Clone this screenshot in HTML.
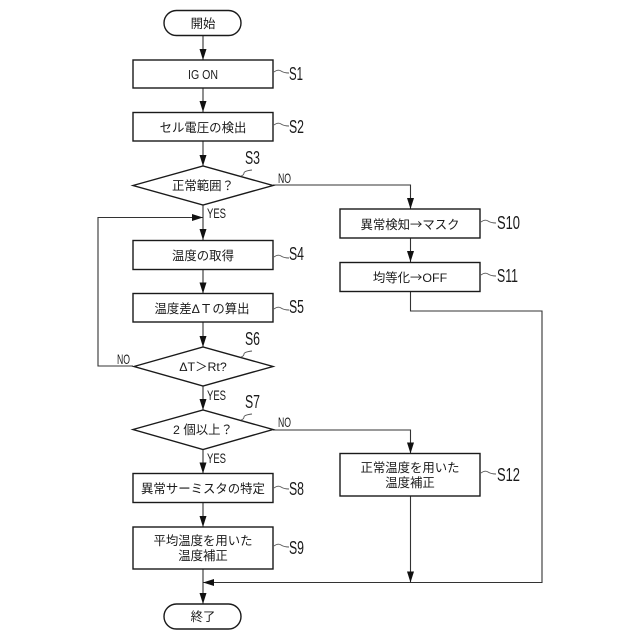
<!DOCTYPE html>
<html><head><meta charset="utf-8"><style>
html,body{margin:0;padding:0;background:#fff}
svg{display:block}
text{font-family:"Liberation Sans","Noto Sans CJK JP",sans-serif;fill:#1a1a1a}
.j{font-size:12.4px;text-anchor:middle}
.n{font-size:14px}
.s{font-size:18px}
.b{fill:#fff;stroke:#1a1a1a;stroke-width:1.4}
.l{fill:none;stroke:#333;stroke-width:1.1}
.t{fill:none;stroke:#555;stroke-width:.9}
.r{font-family:"Noto Sans CJK JP",sans-serif}
</style></head><body>
<svg width="640" height="640" viewBox="0 0 640 640" xmlns="http://www.w3.org/2000/svg">

<!-- connectors -->
<path class="l" d="M203 35V60M203 88V112M203 141V166M203 205V240M203 270V293.500M203 322V347M203 386V410M203 449.500V473.500M203 502.500V527M203 569V604"/>
<path class="l" d="M133 366H98V217.500H203"/>
<path class="l" d="M273 185H410.500V209M410.500 238V262M410.500 291V311H542V582.500H203"/>
<path class="l" d="M273 430H410.500V453.500M410.500 496V582"/>
<g fill="#111">
<path d="M199.500 49L206.500 49L203 60Z"/><path d="M199.500 101L206.500 101L203 112Z"/><path d="M199.500 155L206.500 155L203 166Z"/>
<path d="M199.500 229L206.500 229L203 240Z"/><path d="M199.500 282.500L206.500 282.500L203 293.500Z"/><path d="M199.500 336L206.500 336L203 347Z"/>
<path d="M199.500 399L206.500 399L203 410Z"/><path d="M199.500 462.500L206.500 462.500L203 473.500Z"/><path d="M199.500 516L206.500 516L203 527Z"/><path d="M199.500 593L206.500 593L203 604Z"/>
<path d="M192 214L203 217.500L192 221Z"/><path d="M214 579L203 582.500L214 586Z"/>
<path d="M407 198L414 198L410.500 209Z"/><path d="M407 251L414 251L410.500 262Z"/><path d="M407 442.500L414 442.500L410.500 453.500Z"/><path d="M407 571.500L414 571.500L410.500 582.500Z"/>
</g>

<!-- shapes -->
<rect class="b" x="164" y="10.500" width="77" height="25" rx="12.500"/>
<rect class="b" x="133" y="60" width="140" height="28"/>
<rect class="b" x="133" y="112.500" width="140" height="28.500"/>
<path class="b" d="M133 185.500L203 166L273 185.500L203 205Z"/>
<rect class="b" x="133" y="240.500" width="140" height="29"/>
<rect class="b" x="133" y="293.500" width="140" height="28.500"/>
<path class="b" d="M134 366.500L203 347L273 366.500L203 386Z"/>
<path class="b" d="M133 429.500L203 410L273 429.500L203 449.500Z"/>
<rect class="b" x="133" y="473.500" width="140" height="29"/>
<rect class="b" x="133" y="527" width="140" height="42"/>
<rect class="b" x="164" y="604" width="77" height="25" rx="12.500"/>
<rect class="b" x="340" y="209" width="140" height="29"/>
<rect class="b" x="340" y="262.500" width="140" height="29"/>
<rect class="b" x="340" y="453.500" width="140" height="42.500"/>

<!-- node text -->
<text class="j" x="203" y="28">開始</text>
<text class="n" x="188" y="79" style="font-size:13px" textLength="30" lengthAdjust="spacingAndGlyphs">IG ON</text>
<text class="j" x="203" y="132">セル電圧の検出</text>
<text class="j" x="203" y="190">正常範囲？</text>
<text class="j" x="203" y="260">温度の取得</text>
<text class="j" x="202" y="313">温度差ΔＴの算出</text>
<text class="j" x="203" y="371">ΔT＞Rt?</text>
<text class="j" x="203" y="434">2 個以上？</text>
<text class="j" x="203" y="493">異常サーミスタの特定</text>
<text class="j" x="203" y="545">平均温度を用いた</text>
<text class="j" x="203" y="560">温度補正</text>
<text class="j" x="203" y="621">終了</text>
<text class="j" x="410" y="229">異常検知<tspan class="r">→</tspan>マスク</text>
<text class="j" x="410" y="282">均等化<tspan class="r">→</tspan>OFF</text>
<text class="j" x="410" y="472">正常温度を用いた</text>
<text class="j" x="410" y="487">温度補正</text>

<!-- branch labels -->
<text class="n" x="278" y="183" textLength="13" lengthAdjust="spacingAndGlyphs">NO</text>
<text class="n" x="207" y="218" textLength="19" lengthAdjust="spacingAndGlyphs">YES</text>
<text class="n" x="117" y="364" textLength="13" lengthAdjust="spacingAndGlyphs">NO</text>
<text class="n" x="207" y="400" textLength="19" lengthAdjust="spacingAndGlyphs">YES</text>
<text class="n" x="278" y="427" textLength="13" lengthAdjust="spacingAndGlyphs">NO</text>
<text class="n" x="207" y="463" textLength="19" lengthAdjust="spacingAndGlyphs">YES</text>

<!-- step ticks -->
<path class="t" d="M274 72q4 -3 7 -1t8 2M274 125q4 -3 7 -1t8 2M274 257q4 -3 7 -1t8 2M274 309q4 -3 7 -1t8 2M274 488q4 -3 7 -1t8 2M274 546q4 -3 7 -1t8 2M481 222q4 -3 7 -1t8 2M481 275q4 -3 7 -1t8 2M481 473q4 -3 7 -1t8 2"/>
<path class="t" d="M241 176q3 -1 3 -3t8 -3M241 357q3 -1 3 -3t8 -3M241 420q3 -1 3 -3t8 -3"/>

<!-- step labels -->
<text class="s" x="289" y="80" textLength="14" lengthAdjust="spacingAndGlyphs">S1</text>
<text class="s" x="289" y="133" textLength="15" lengthAdjust="spacingAndGlyphs">S2</text>
<text class="s" x="245" y="164" textLength="15" lengthAdjust="spacingAndGlyphs">S3</text>
<text class="s" x="289" y="260" textLength="15" lengthAdjust="spacingAndGlyphs">S4</text>
<text class="s" x="289" y="313" textLength="15" lengthAdjust="spacingAndGlyphs">S5</text>
<text class="s" x="245" y="345" textLength="15" lengthAdjust="spacingAndGlyphs">S6</text>
<text class="s" x="245" y="408" textLength="15" lengthAdjust="spacingAndGlyphs">S7</text>
<text class="s" x="289" y="495" textLength="15" lengthAdjust="spacingAndGlyphs">S8</text>
<text class="s" x="289" y="554" textLength="15" lengthAdjust="spacingAndGlyphs">S9</text>
<text class="s" x="497" y="229" textLength="23" lengthAdjust="spacingAndGlyphs">S10</text>
<text class="s" x="497" y="282" textLength="21" lengthAdjust="spacingAndGlyphs">S11</text>
<text class="s" x="497" y="481" textLength="23" lengthAdjust="spacingAndGlyphs">S12</text>
</svg>
</body></html>
